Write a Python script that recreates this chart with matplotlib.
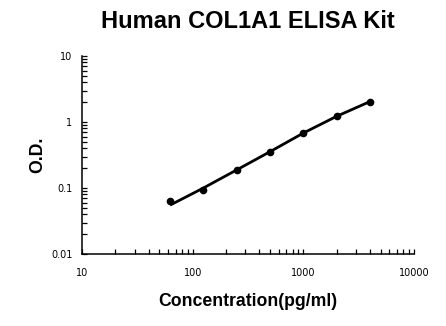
import matplotlib
matplotlib.use('Agg')
import matplotlib.pyplot as plt
from matplotlib.ticker import LogLocator, FixedLocator, FixedFormatter, NullFormatter

# standard curve points
conc = [62.5, 125, 250, 500, 1000, 2000, 4000]
od = [0.064, 0.094, 0.188, 0.348, 0.69, 1.24, 2.04]
# fitted curve at the same concentrations
fit_od = [0.055, 0.100, 0.188, 0.355, 0.680, 1.22, 2.04]

xticks = [10, 100, 1000, 10000]
xlabels = ['10', '100', '1000', '10000']
yticks = [0.01, 0.1, 1, 10]
ylabels = ['0.01', '0.1', '1', '10']

fig = plt.figure(figsize=(4.46, 3.26), dpi=100)
ax = fig.add_axes([82 / 446, 72 / 326, 332 / 446, 198 / 326])

ax.plot(conc, fit_od, color='black', linewidth=2, solid_capstyle='butt')
ax.plot(conc, od, 'o', color='black', markersize=4.5)

ax.set_xscale('log')
ax.set_yscale('log')
ax.set_xlim(10, 10000)
ax.set_ylim(0.01, 10)

ax.xaxis.set_major_locator(FixedLocator(xticks))
ax.xaxis.set_major_formatter(FixedFormatter(xlabels))
ax.yaxis.set_major_locator(FixedLocator(yticks))
ax.yaxis.set_major_formatter(FixedFormatter(ylabels))
ax.xaxis.set_minor_locator(LogLocator(base=10, subs=range(2, 10), numticks=20))
ax.yaxis.set_minor_locator(LogLocator(base=10, subs=range(2, 10), numticks=20))
ax.xaxis.set_minor_formatter(NullFormatter())
ax.yaxis.set_minor_formatter(NullFormatter())

for s in ['top', 'right']:
    ax.spines[s].set_visible(False)
for s in ['left', 'bottom']:
    ax.spines[s].set_linewidth(1.1)

ax.tick_params(which='both', direction='in', length=3.5, width=0.9, color='black')
ax.tick_params(axis='x', which='major', pad=10, labelsize=7)
ax.tick_params(axis='y', which='major', pad=7, labelsize=7)

ax.set_xlabel('Concentration(pg/ml)', fontsize=12.7, fontweight='bold',
              family='Liberation Sans', labelpad=11)
ax.set_ylabel('O.D.', fontsize=12.7, fontweight='bold',
              family='Liberation Sans', labelpad=3)
fig.text(248 / 446, 1 - 21 / 326, 'Human COL1A1 ELISA Kit', ha='center', va='center',
         fontsize=17, fontweight='bold', family='Liberation Sans')

fig.savefig('out.png', dpi=100)
